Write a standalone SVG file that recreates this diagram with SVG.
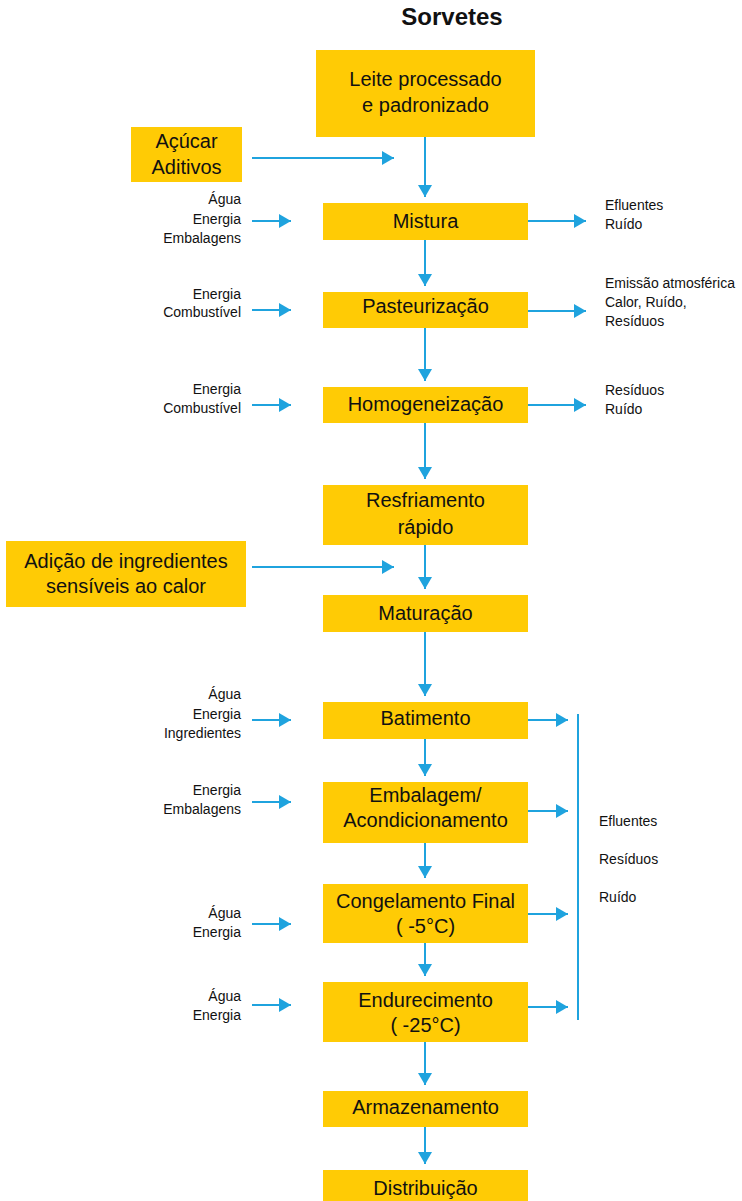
<svg xmlns="http://www.w3.org/2000/svg" width="742" height="1201" viewBox="0 0 742 1201">
  <style>
    .box { fill: #FFCB05; }
    .lbl { font-family: "Liberation Sans", Arial, sans-serif; font-size: 20px; fill: #111; text-anchor: middle; }
    .sm { font-family: "Liberation Sans", Arial, sans-serif; font-size: 14px; fill: #111; }
    .in { text-anchor: end; }
    .out { text-anchor: start; }
    .ttl { font-family: "Liberation Sans", Arial, sans-serif; font-size: 24px; font-weight: bold; fill: #111; text-anchor: middle; }
    .ln { stroke: #1FA3DE; stroke-width: 2; fill: none; }
    .arr { stroke: #1FA3DE; stroke-width: 2; fill: none; marker-end: url(#head); }
  </style>
  <defs>
    <marker id="head" markerUnits="userSpaceOnUse" markerWidth="12" markerHeight="14" refX="12" refY="7" orient="auto">
      <path d="M0,0 L12,7 L0,14 z" fill="#1FA3DE"/>
    </marker>
  </defs>
  <rect width="742" height="1201" fill="#fff"/>

  <text class="ttl" x="452" y="25">Sorvetes</text>

  <!-- process steps -->
  <g id="leite"><rect class="box" x="316" y="50" width="219" height="87"/>
    <text class="lbl" x="425.5" y="86">Leite processado</text>
    <text class="lbl" x="425.5" y="112">e padronizado</text></g>
  <g id="acucar"><rect class="box" x="131" y="127" width="111" height="55"/>
    <text class="lbl" x="186.5" y="148">Açúcar</text>
    <text class="lbl" x="186.5" y="174">Aditivos</text></g>
  <g id="mistura"><rect class="box" x="323" y="203" width="205" height="37"/>
    <text class="lbl" x="425.5" y="228">Mistura</text></g>
  <g id="pasteurizacao"><rect class="box" x="323" y="292" width="205" height="36"/>
    <text class="lbl" x="425.5" y="313">Pasteurização</text></g>
  <g id="homogeneizacao"><rect class="box" x="323" y="387" width="205" height="36"/>
    <text class="lbl" x="425.5" y="411">Homogeneização</text></g>
  <g id="resfriamento"><rect class="box" x="323" y="485" width="205" height="60"/>
    <text class="lbl" x="425.5" y="507">Resfriamento</text>
    <text class="lbl" x="425.5" y="534">rápido</text></g>
  <g id="adicao"><rect class="box" x="6" y="541" width="240" height="66"/>
    <text class="lbl" x="126" y="568">Adição de ingredientes</text>
    <text class="lbl" x="126" y="593">sensíveis ao calor</text></g>
  <g id="maturacao"><rect class="box" x="323" y="595" width="205" height="37"/>
    <text class="lbl" x="425.5" y="620">Maturação</text></g>
  <g id="batimento"><rect class="box" x="323" y="702" width="205" height="37"/>
    <text class="lbl" x="425.5" y="725">Batimento</text></g>
  <g id="embalagem"><rect class="box" x="323" y="782" width="205" height="61"/>
    <text class="lbl" x="425.5" y="802">Embalagem/</text>
    <text class="lbl" x="425.5" y="827">Acondicionamento</text></g>
  <g id="congelamento"><rect class="box" x="323" y="884" width="205" height="59"/>
    <text class="lbl" x="425.5" y="908">Congelamento Final</text>
    <text class="lbl" x="425.5" y="933">( -5°C)</text></g>
  <g id="endurecimento"><rect class="box" x="323" y="982" width="205" height="60"/>
    <text class="lbl" x="425.5" y="1007">Endurecimento</text>
    <text class="lbl" x="425.5" y="1032">( -25°C)</text></g>
  <g id="armazenamento"><rect class="box" x="323" y="1091" width="205" height="36"/>
    <text class="lbl" x="425.5" y="1114">Armazenamento</text></g>
  <g id="distribuicao"><rect class="box" x="323" y="1170" width="205" height="40"/>
    <text class="lbl" x="425.5" y="1195">Distribuição</text></g>

  <!-- inputs (left) -->
  <g id="inputs" class="sm in">
    <text x="241" y="204">Água</text><text x="241" y="224">Energia</text><text x="241" y="243">Embalagens</text>
    <text x="241" y="299">Energia</text><text x="241" y="317">Combustível</text>
    <text x="241" y="394">Energia</text><text x="241" y="413">Combustível</text>
    <text x="241" y="699">Água</text><text x="241" y="719">Energia</text><text x="241" y="738">Ingredientes</text>
    <text x="241" y="795">Energia</text><text x="241" y="814">Embalagens</text>
    <text x="241" y="918">Água</text><text x="241" y="937">Energia</text>
    <text x="241" y="1001">Água</text><text x="241" y="1020">Energia</text>
  </g>

  <!-- outputs (right) -->
  <g id="outputs" class="sm out">
    <text x="605" y="210">Efluentes</text><text x="605" y="229">Ruído</text>
    <text x="605" y="288">Emissão atmosférica</text><text x="605" y="307">Calor, Ruído,</text><text x="605" y="326">Resíduos</text>
    <text x="605" y="395">Resíduos</text><text x="605" y="414">Ruído</text>
    <text x="599" y="826">Efluentes</text><text x="599" y="864">Resíduos</text><text x="599" y="902">Ruído</text>
  </g>

  <!-- connectors -->
  <g id="connectors">
    <line class="arr" x1="425" y1="137" x2="425" y2="197"/>
    <line class="arr" x1="425" y1="240" x2="425" y2="286"/>
    <line class="arr" x1="425" y1="328" x2="425" y2="381"/>
    <line class="arr" x1="425" y1="423" x2="425" y2="479"/>
    <line class="arr" x1="425" y1="545" x2="425" y2="589"/>
    <line class="arr" x1="425" y1="632" x2="425" y2="696"/>
    <line class="arr" x1="425" y1="739" x2="425" y2="776"/>
    <line class="arr" x1="425" y1="843" x2="425" y2="878"/>
    <line class="arr" x1="425" y1="943" x2="425" y2="976"/>
    <line class="arr" x1="425" y1="1042" x2="425" y2="1085"/>
    <line class="arr" x1="425" y1="1127" x2="425" y2="1164"/>

    <line class="arr" x1="252" y1="158" x2="394" y2="158"/>
    <line class="arr" x1="252" y1="567" x2="394" y2="567"/>

    <line class="arr" x1="252" y1="221" x2="291" y2="221"/>
    <line class="arr" x1="252" y1="310" x2="291" y2="310"/>
    <line class="arr" x1="252" y1="405" x2="291" y2="405"/>
    <line class="arr" x1="252" y1="720" x2="291" y2="720"/>
    <line class="arr" x1="252" y1="802" x2="291" y2="802"/>
    <line class="arr" x1="252" y1="924" x2="291" y2="924"/>
    <line class="arr" x1="252" y1="1005" x2="291" y2="1005"/>

    <line class="arr" x1="528" y1="221" x2="586" y2="221"/>
    <line class="arr" x1="528" y1="311" x2="586" y2="311"/>
    <line class="arr" x1="528" y1="405" x2="586" y2="405"/>

    <line class="arr" x1="528" y1="720" x2="568" y2="720"/>
    <line class="arr" x1="528" y1="811" x2="568" y2="811"/>
    <line class="arr" x1="528" y1="914" x2="568" y2="914"/>
    <line class="arr" x1="528" y1="1007" x2="568" y2="1007"/>
    <line class="ln" x1="578" y1="714" x2="578" y2="1020"/>
  </g>
</svg>
